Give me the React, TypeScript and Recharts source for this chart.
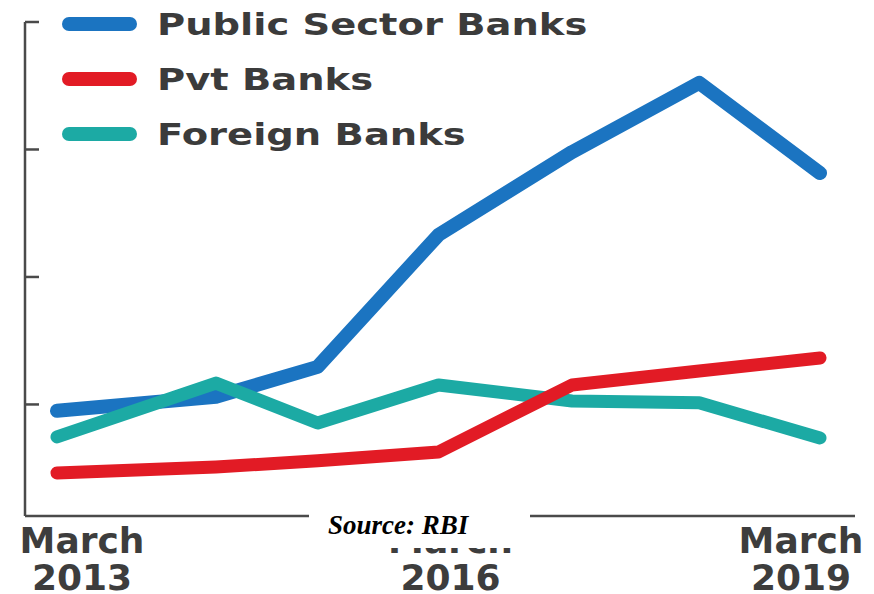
import { LineChart, Line, XAxis, YAxis, Legend } from "recharts"

// vertex positions as drawn (fractional years)
const periods = [2013, 2014.25, 2015.05, 2016, 2017.05, 2018.05, 2019]
const publicSector = [3.8, 4.24, 5.18, 9.32, 11.92, 14.09, 11.26]
const pvtBanks = [1.85, 2.04, 2.23, 2.51, 4.61, 5.05, 5.46]
const foreignBanks = [2.98, 4.67, 3.42, 4.61, 4.11, 4.05, 2.95]

const xTicks = [2013, 2016, 2019]
const yTicks = [4, 8, 12, 16]
const seriesNames = ["Public Sector Banks", "Pvt Banks", "Foreign Banks"]

const data = periods.map((p, i) => ({
  period: p,
  psb: publicSector[i],
  pvt: pvtBanks[i],
  foreign: foreignBanks[i],
}))

const labelShift: Record<number, number> = { 2013: 25, 2016: 12, 2019: -19 }

function MarchTick({ x, y, payload }: any) {
  const cx = x + (labelShift[payload.value] ?? 0)
  return (
    <text textAnchor="middle" fill="#3d3d3d" fontFamily="DejaVu Sans" fontWeight="bold" fontSize={36}>
      <tspan x={cx} y={y + 29}>March</tspan>
      <tspan x={cx} y={y + 66}>{payload.value}</tspan>
    </text>
  )
}

function BankLegend({ payload }: any) {
  const items = seriesNames.map((name) => (payload || []).find((p: any) => p.value === name)).filter(Boolean)
  return (
    <div style={{ position: "relative", width: 620, height: 160 }}>
      {items.map((entry: any, i: number) => (
        <div
          key={entry.value}
          style={{ position: "absolute", left: 0, top: i * 55, height: 48, display: "flex", alignItems: "center" }}
        >
          <div style={{ marginLeft: 62, width: 75, height: 14, borderRadius: 7, background: entry.color }} />
          <span
            style={{
              marginLeft: 20,
              fontFamily: "DejaVu Sans",
              fontWeight: "bold",
              fontSize: 31,
              color: "#3b3b3b",
              display: "inline-block",
              transform: "scaleX(1.24)",
              transformOrigin: "left center",
              whiteSpace: "nowrap",
            }}
          >
            {entry.value}
          </span>
        </div>
      ))}
    </div>
  )
}

export default function App() {
  return (
    <div style={{ position: "absolute", left: 0, top: 0, width: 874, height: 594, background: "#fff", overflow: "hidden" }}>
      <LineChart width={874} height={594} data={data} margin={{ top: 22, right: 19, left: 25, bottom: 0 }}>
        <XAxis
          dataKey="period"
          type="number"
          domain={[2013, 2019]}
          ticks={xTicks}
          interval={0}
          padding={{ left: 32, right: 35 }}
          axisLine={{ stroke: "#4a4a4a", strokeWidth: 2.5 }}
          tickLine={false}
          tickSize={6}
          tickMargin={2}
          tick={<MarchTick />}
          height={78}
        />
        <YAxis
          type="number"
          domain={[0.5, 16]}
          ticks={yTicks}
          interval={0}
          mirror
          width={30}
          allowDataOverflow
          axisLine={{ stroke: "#4a4a4a", strokeWidth: 2.5 }}
          tickLine={{ stroke: "#4a4a4a", strokeWidth: 2.5 }}
          tickSize={14}
          tickFormatter={() => ""}
        />
        <Legend
          layout="vertical"
          align="center"
          verticalAlign="middle"
          wrapperStyle={{ left: 0, top: 0, width: 620 }}
          content={<BankLegend />}
        />
        <Line
          name="Public Sector Banks"
          dataKey="psb"
          type="linear"
          stroke="#1b74c1"
          strokeWidth={14}
          strokeLinecap="round"
          strokeLinejoin="round"
          dot={false}
          activeDot={false}
          isAnimationActive={false}
        />
        <Line
          name="Foreign Banks"
          dataKey="foreign"
          type="linear"
          stroke="#1caaa4"
          strokeWidth={13}
          strokeLinecap="round"
          strokeLinejoin="round"
          dot={false}
          activeDot={false}
          isAnimationActive={false}
        />
        <Line
          name="Pvt Banks"
          dataKey="pvt"
          type="linear"
          stroke="#e21b25"
          strokeWidth={13}
          strokeLinecap="round"
          strokeLinejoin="round"
          dot={false}
          activeDot={false}
          isAnimationActive={false}
        />
      </LineChart>
      <div
        style={{
          position: "absolute",
          left: 309,
          top: 505,
          width: 221,
          height: 43,
          background: "#fff",
        }}
      >
        <span
          style={{
            position: "absolute",
            left: 19,
            top: 5,
            fontFamily: "Liberation Serif",
            fontStyle: "italic",
            fontWeight: "bold",
            fontSize: 27,
            color: "#000",
            whiteSpace: "nowrap",
          }}
        >
          Source: RBI
        </span>
      </div>
    </div>
  )
}
